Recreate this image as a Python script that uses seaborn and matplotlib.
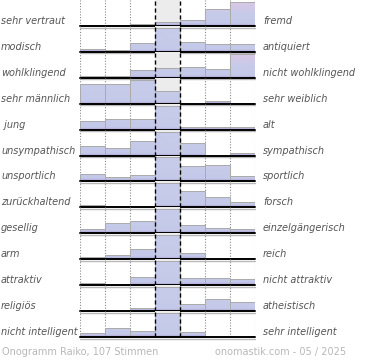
import matplotlib
matplotlib.use("Agg")
import matplotlib.pyplot as plt
import numpy as np
import pandas as pd
import seaborn as sns
from matplotlib.colors import LinearSegmentedColormap
from matplotlib.transforms import offset_copy

# Onogramm: Anteil der Stimmen (%) je Stufe 1..7, pro Eigenschaftspaar
steps = [1, 2, 3, 4, 5, 6, 7]

left_labels = ["sehr vertraut", "modisch", "wohlklingend", "sehr männlich", " jung",
               "unsympathisch", "unsportlich", "zurückhaltend", "gesellig", "arm",
               "attraktiv", "religiös", "nicht intelligent"]
right_labels = ["fremd", "antiquiert", "nicht wohlklingend", "sehr weiblich", "alt",
                "sympathisch", "sportlich", "forsch", "einzelgängerisch", "reich",
                "nicht attraktiv", "atheistisch", "sehr intelligent"]

vertraut = [2, 1, 3, 7, 12, 31, 45]
modisch = [5, 3, 14, 38, 15, 12, 12]
wohlklingend = [3, 3, 12, 15, 16, 14, 37]
maennlich = [25, 25, 30, 16, 0, 3, 1]
jung = [14, 17, 17, 40, 4, 4, 4]
unsympathisch = [13, 10, 20, 34, 18, 0, 4]
unsportlich = [9, 6, 8, 30, 19, 21, 7]
zurueckhaltend = [4, 2, 2, 39, 26, 17, 9]
gesellig = [6, 14, 18, 34, 12, 8, 6]
arm = [5, 8, 21, 50, 13, 0, 2]
attraktiv = [4, 1, 15, 43, 13, 13, 11]
religioes = [1, 1, 5, 42, 13, 22, 16]
nicht_intelligent = [8, 18, 13, 49, 10, 1, 1]

rows = [vertraut, modisch, wohlklingend, maennlich, jung, unsympathisch, unsportlich,
        zurueckhaltend, gesellig, arm, attraktiv, religioes, nicht_intelligent]

sns.set_theme(style="white")
plt.rcParams["font.family"] = ["DejaVu Sans"]

W, H = 370, 360
fig = plt.figure(figsize=(W / 100, H / 100), dpi=100)
fig.patch.set_facecolor("white")

x_left, x_right = 80, 255
row_h = 337 / 13
label_color = "#555555"

top_colors = ["#c7cbea", "#c7cbea", "#c7cbea", "#c7cbea", "#ccc8e8", "#dcc6e4", "#dcc6e4"]
cmaps = [
    LinearSegmentedColormap.from_list(
        f"bar{j}", [(0, "#a9a0cf"), (0.1, "#c4c9e9"), (0.45, "#c6cbea"), (1, top)]
    )
    for j, top in enumerate(top_colors)
]
grad = np.linspace(0, 1, 256).reshape(-1, 1)

for i, vals in enumerate(rows):
    base_px = (i + 1) * row_h
    ax = fig.add_axes([x_left / W, 1 - base_px / H, (x_right - x_left) / W, row_h / H])
    df = pd.DataFrame({"stufe": steps, "anteil": vals})
    sns.barplot(data=df, x="stufe", y="anteil", ax=ax, color="#c3c8e8", width=1.0,
                errorbar=None, edgecolor="#ababab", linewidth=0.7, saturation=1, zorder=3)
    bars = list(ax.patches)
    ymax = max(vals) / 0.925
    for j, bar in enumerate(bars):
        bar.set_facecolor("none")
        x0 = bar.get_x()
        im = ax.imshow(grad, extent=[x0, x0 + bar.get_width(), 0, ymax], origin="lower",
                       aspect="auto", cmap=cmaps[j], zorder=2.5, interpolation="bilinear")
        im.set_clip_path(bar)

    ax.axvspan(2.5, 3.5, color="#ececec", lw=0, zorder=0)
    for xv in [-0.5, 0.5, 1.5, 4.5, 5.5, 6.5]:
        ax.axvline(xv, color="#8a8a8a", ls=(0, (1, 1.5)), lw=0.8, zorder=1)
    for xv in [2.5, 3.5]:
        ax.axvline(xv, color="black", ls=(0, (3, 2)), lw=1.0, zorder=4)

    ax.set_xlim(-0.5, 6.5)
    ax.set_ylim(0, ymax)
    shadow = offset_copy(ax.transAxes, fig=fig, y=-1.6, units="dots")
    ax.plot([0, 1], [0, 0], transform=shadow, color="#b8b8b8", lw=1.0, clip_on=False, zorder=4)
    ax.axhline(0, color="black", lw=1.4, zorder=5, clip_on=False)
    ax.axis("off")

    y_text = 1 - (base_px - 2) / H
    fig.text(1 / W, y_text, left_labels[i], fontsize=7, style="italic",
             color=label_color, va="baseline", ha="left")
    fig.text(263 / W, y_text, right_labels[i], fontsize=7, style="italic",
             color=label_color, va="baseline", ha="left")

fig.text(2 / W, 1 - 355 / H, "Onogramm Raiko, 107 Stimmen", fontsize=7,
         color="#b8b8b8", va="baseline", ha="left")
fig.text(346 / W, 1 - 355 / H, "onomastik.com - 05 / 2025", fontsize=7,
         color="#b8b8b8", va="baseline", ha="right")

fig.savefig("out.png", dpi=100)
